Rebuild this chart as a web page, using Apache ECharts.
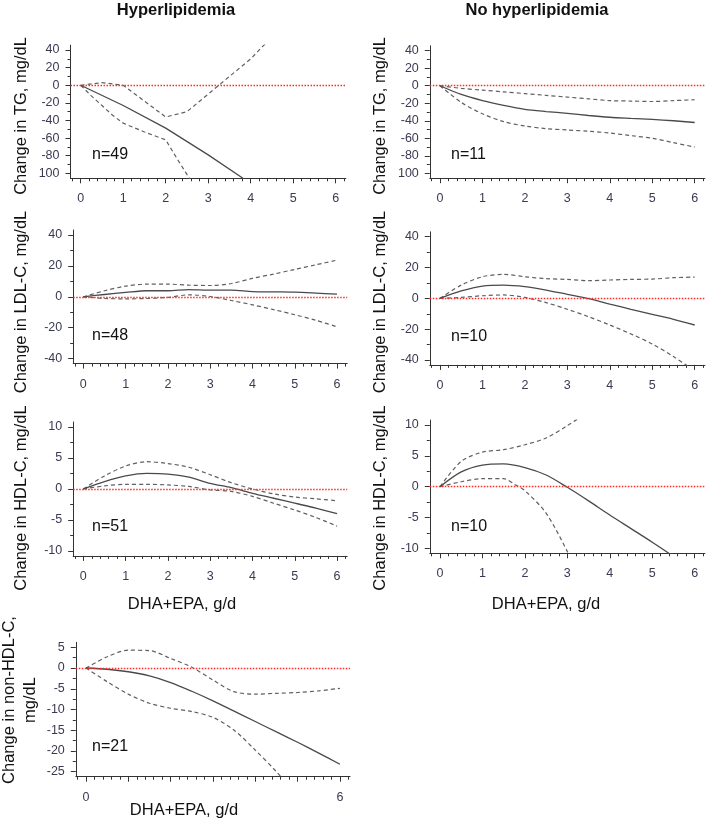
<!DOCTYPE html>
<html><head><meta charset="utf-8">
<script src="https://cdn.jsdelivr.net/npm/echarts@6/dist/echarts.min.js"></script>
<style>html,body{margin:0;padding:0;background:#fff}#c{width:709px;height:820px}</style>
</head><body><div id="c"></div>
<script>
// ---------- tick labels / axis ranges ----------
const xRange = [-0.24, 6.24];
const xTicks = [0, 1, 2, 3, 4, 5, 6];
const xTicksBottom = [0, 6];
const xMinor = [-0.2,0.2,0.4,0.6,0.8,1.2,1.4,1.6,1.8,2.2,2.4,2.6,2.8,3.2,3.4,3.6,3.8,4.2,4.4,4.6,4.8,5.2,5.4,5.6,5.8,6.2];

const tgRange = [-105.6, 45.6];
const tgTicks = [-100, -80, -60, -40, -20, 0, 20, 40];
const tgTickText = ['100', '-80', '-60', '-40', '-20', '0', '20', '40'];
const tgMinor = [-90, -70, -50, -30, -10, 10, 30];

const ldlRange = [-43.2, 43.2];
const ldlTicks = [-40, -20, 0, 20, 40];
const ldlTickText = ['-40', '-20', '0', '20', '40'];
const ldlMinor = [-30, -10, 10, 30];

const hdlRange = [-10.8, 10.8];
const hdlTicks = [-10, -5, 0, 5, 10];
const hdlTickText = ['-10', '-5', '0', '5', '10'];
const hdlMinor = [-7.5, -2.5, 2.5, 7.5];

const nonHdlRange = [-26.2, 6.2];
const nonHdlTicks = [-25, -20, -15, -10, -5, 0, 5];
const nonHdlTickText = ['-25', '-20', '-15', '-10', '-5', '0', '5'];
const nonHdlMinor = [-22.5, -17.5, -12.5, -7.5, -2.5, 2.5];

// ---------- series values [DHA+EPA g/d, change] ----------
const tgHypEst = [[0,0],[1,-23],[2,-48.7],[3,-79],[3.8,-105],[4.2,-118]];
const tgHypHi  = [[0,0],[0.5,3],[1,0],[1.5,-18],[2,-36],[2.5,-30],[3,-10],[3.5,10],[4,30],[4.3,45],[4.6,58]];
const tgHypLo  = [[0,0],[0.25,-12],[0.5,-23],[0.75,-34],[1,-43],[1.5,-53],[2,-62],[2.25,-82],[2.55,-105],[2.7,-118]];

const tgNoEst = [[0,0],[0.5,-10],[1,-17],[1.5,-22.5],[2,-27],[2.5,-29.5],[3,-31.5],[3.5,-34],[4,-36],[4.5,-37.3],[5,-38.5],[5.5,-40],[6,-42]];
const tgNoHi  = [[0,0],[0.5,-3],[1,-5],[1.5,-7],[2,-9],[2.5,-11],[3,-13],[3.5,-15],[4,-17],[4.5,-17.5],[5,-18],[5.5,-17],[6,-16]];
const tgNoLo  = [[0,0],[0.5,-19],[1,-32],[1.5,-41],[2,-46],[2.5,-49],[3,-50.5],[3.5,-52],[4,-54],[4.5,-57],[5,-60],[5.5,-65],[6,-70]];

const ldlHypEst = [[0,0],[0.5,1.5],[1,2.8],[1.5,3.9],[2,3.9],[2.5,4.7],[3,4.3],[3.5,4.3],[4,3.4],[4.5,3.2],[5,3],[5.5,2.4],[6,1.7]];
const ldlHypHi  = [[0,0],[0.5,3.9],[1,6.9],[1.5,8.2],[2,8.2],[2.5,7.5],[3,7.3],[3.5,8.6],[4,11.9],[4.5,14.7],[5,17.7],[5.5,20.7],[6,23.7]];
const ldlHypLo  = [[0,0],[0.5,-1.1],[1,-1.3],[1.5,-1.1],[2,-0.4],[2.5,1.3],[3,0.2],[3.5,-2.4],[4,-5.2],[4.5,-8.3],[5,-11.6],[5.5,-15.2],[6,-19.4]];

const ldlNoEst = [[0,0],[0.5,4.8],[1,8],[1.5,8.6],[2,7.6],[2.5,5.4],[3,2.6],[3.5,-0.2],[4,-3.7],[4.5,-7.1],[5,-10.4],[5.5,-13.6],[6,-17.3]];
const ldlNoHi  = [[0,0],[0.5,8.6],[1,14],[1.5,15.6],[2,14],[2.5,12.8],[3,12.3],[3.5,11.5],[4,11.9],[4.5,12.3],[5,12.5],[5.5,13.4],[6,13.8]];
const ldlNoLo  = [[0,0],[0.5,0.6],[1,1.7],[1.5,2.2],[2,0.6],[2.5,-2.8],[3,-7.1],[3.5,-11.9],[4,-17.3],[4.5,-23.1],[5,-29.6],[5.5,-37.8],[6,-47]];

const hdlHypEst = [[0,0],[0.5,1.2],[1,2.1],[1.5,2.5],[2,2.4],[2.5,1.9],[3,0.9],[3.5,0.2],[4,-0.7],[4.5,-1.5],[5,-2.3],[5.5,-3.1],[6,-4.0]];
const hdlHypHi  = [[0,0],[0.5,2.1],[1,3.7],[1.5,4.4],[2,4.1],[2.5,3.5],[3,2.3],[3.5,1.0],[4,0],[4.5,-0.8],[5,-1.3],[5.5,-1.6],[6,-1.9]];
const hdlHypLo  = [[0,0],[0.5,0.5],[1,0.75],[1.5,0.75],[2,0.65],[2.5,0.4],[3,-0.15],[3.5,-0.4],[4,-1.2],[4.5,-2.3],[5,-3.4],[5.5,-4.6],[6,-6.0]];

const hdlNoEst = [[0,0],[0.5,2.4],[1,3.5],[1.5,3.7],[2,3.1],[2.5,1.9],[3,-0.1],[3.5,-2.3],[4,-4.6],[4.5,-6.8],[5,-9.0],[5.5,-11.3],[6,-13.5]];
const hdlNoHi  = [[0,0],[0.5,4.1],[1,5.6],[1.5,6.0],[2,6.8],[2.5,7.9],[3,9.9],[3.3,11.3],[3.5,12.5]];
const hdlNoLo  = [[0,0],[0.5,0.8],[1,1.3],[1.5,1.3],[1.75,0.4],[2,-0.65],[2.5,-4.3],[3,-10.5],[3.2,-13.5]];

const nonHdlEst = [[0,0],[0.5,-0.3],[1,-0.9],[1.5,-1.9],[2,-3.5],[2.5,-5.6],[3,-7.9],[3.5,-10.4],[4,-12.9],[4.5,-15.4],[5,-17.9],[5.5,-20.5],[6,-23.2]];
const nonHdlHi  = [[0,0],[0.5,2.7],[1,4.3],[1.5,4.2],[2,2.3],[2.5,0.2],[3,-2.9],[3.5,-5.7],[4,-6.3],[4.5,-6.1],[5,-5.9],[5.5,-5.5],[6,-4.9]];
const nonHdlLo  = [[0,0],[0.5,-3.3],[1,-6.3],[1.5,-8.5],[2,-9.7],[2.5,-10.5],[3,-11.9],[3.5,-15],[4,-19.8],[4.5,-25],[5,-31]];

// ---------- text ----------
const titles = ['Hyperlipidemia', 'No hyperlipidemia'];
const xName = 'DHA+EPA, g/d';
const FONT = "'Liberation Sans', Arial, sans-serif";

// ---------- panels ----------
const panels = [
  {grid:{left:70.5,top:45.1,width:275.4,height:133.2}, yr:tgRange, yt:tgTicks, ytt:tgTickText, ym:tgMinor,
   est:tgHypEst, hi:tgHypHi, lo:tgHypLo, smooth:false, n:'n=49', nPos:[92,155], xt:xTicks},
  {grid:{left:429.8,top:45.8,width:275.1,height:132.4}, yr:tgRange, yt:tgTicks, ytt:tgTickText, ym:tgMinor,
   est:tgNoEst, hi:tgNoHi, lo:tgNoLo, smooth:0.3, n:'n=11', nPos:[451,155], xt:xTicks},
  {grid:{left:73.2,top:230,width:274,height:133.6}, yr:ldlRange, yt:ldlTicks, ytt:ldlTickText, ym:ldlMinor,
   est:ldlHypEst, hi:ldlHypHi, lo:ldlHypLo, smooth:0.3, n:'n=48', nPos:[92,336], xt:xTicks},
  {grid:{left:429.8,top:231.8,width:275.1,height:133.1}, yr:ldlRange, yt:ldlTicks, ytt:ldlTickText, ym:ldlMinor,
   est:ldlNoEst, hi:ldlNoHi, lo:ldlNoLo, smooth:0.3, n:'n=10', nPos:[451,337], xt:xTicks},
  {grid:{left:73.2,top:422,width:274,height:133.9}, yr:hdlRange, yt:hdlTicks, ytt:hdlTickText, ym:hdlMinor,
   est:hdlHypEst, hi:hdlHypHi, lo:hdlHypLo, smooth:0.3, n:'n=51', nPos:[92,527], xt:xTicks},
  {grid:{left:429.8,top:420.1,width:275.1,height:133.2}, yr:hdlRange, yt:hdlTicks, ytt:hdlTickText, ym:hdlMinor,
   est:hdlNoEst, hi:hdlNoHi, lo:hdlNoLo, smooth:0.3, n:'n=10', nPos:[451,527], xt:xTicks},
  {grid:{left:75.8,top:642.3,width:274.3,height:134.4}, yr:nonHdlRange, yt:nonHdlTicks, ytt:nonHdlTickText, ym:nonHdlMinor,
   est:nonHdlEst, hi:nonHdlHi, lo:nonHdlLo, smooth:0.3, n:'n=21', nPos:[92,747], xt:xTicksBottom}
];

const yNames = [
  {t:'Change in TG, mg/dL', x:21, y:116}, {t:'Change in TG, mg/dL', x:380, y:116},
  {t:'Change in LDL-C, mg/dL', x:21, y:302}, {t:'Change in LDL-C, mg/dL', x:380, y:302},
  {t:'Change in HDL-C, mg/dL', x:21, y:498}, {t:'Change in HDL-C, mg/dL', x:380, y:498},
  {t:'Change in non-HDL-C,\nmg/dL', x:20, y:700}
];

const AXIS_COLOR = '#333';
const TICK_TEXT = '#3a3a52';
const grids = [], xAxes = [], yAxes = [], series = [];

panels.forEach((p, i) => {
  grids.push(Object.assign({containLabel:false}, p.grid));
  const lineStyle = {color: AXIS_COLOR, width: 1};
  // main x axis
  xAxes.push({type:'value', gridIndex:i, min:xRange[0], max:xRange[1], position:'bottom',
    axisLine:{show:true, onZero:false, lineStyle},
    axisTick:{show:true, length:5, customValues:xTicks, lineStyle},
    axisLabel:{show:true, customValues:p.xt, margin:14, fontSize:12.5, color:TICK_TEXT, fontFamily:FONT},
    splitLine:{show:false}});
  // minor x ticks
  xAxes.push({type:'value', gridIndex:i, min:xRange[0], max:xRange[1], position:'bottom',
    axisLine:{show:false, onZero:false},
    axisTick:{show:true, length:3, customValues:xMinor, lineStyle},
    axisLabel:{show:false}, splitLine:{show:false}});
  const ticks = p.yt, texts = p.ytt;
  yAxes.push({type:'value', gridIndex:i, min:p.yr[0], max:p.yr[1], position:'left',
    axisLine:{show:true, onZero:false, lineStyle},
    axisTick:{show:true, length:5, customValues:ticks, lineStyle},
    axisLabel:{show:true, customValues:ticks, margin:11, fontSize:12.5, color:TICK_TEXT, fontFamily:FONT,
      formatter: v => { const k = ticks.indexOf(v); return k >= 0 ? texts[k] : String(v); }},
    splitLine:{show:false}});
  yAxes.push({type:'value', gridIndex:i, min:p.yr[0], max:p.yr[1], position:'left',
    axisLine:{show:false, onZero:false},
    axisTick:{show:true, length:3, customValues:p.ym, lineStyle},
    axisLabel:{show:false}, splitLine:{show:false}});

  const xi = 2*i, yi = 2*i;
  series.push({type:'line', xAxisIndex:xi, yAxisIndex:yi, data:p.est, smooth:p.smooth, showSymbol:false, symbol:'none',
    clip:true, lineStyle:{color:'#4a4a4a', width:1.3}, z:3,
    markLine:{silent:true, symbol:'none', label:{show:false}, animation:false,
      lineStyle:{color:'#ff2a2a', type:[1.5,1.5], width:1.4}, data:[{yAxis:0}]}});
  series.push({type:'line', xAxisIndex:xi, yAxisIndex:yi, data:p.hi, smooth:p.smooth, showSymbol:false, symbol:'none',
    clip:true, lineStyle:{color:'#606060', width:1.2, type:[4,3]}, z:2});
  series.push({type:'line', xAxisIndex:xi, yAxisIndex:yi, data:p.lo, smooth:p.smooth, showSymbol:false, symbol:'none',
    clip:true, lineStyle:{color:'#606060', width:1.2, type:[4,3]}, z:2});
});

const graphic = [];
function txt(t, x, y, size, opts) {
  return Object.assign({type:'text', x, y, silent:true, style:Object.assign({text:t, fontSize:size, fontFamily:FONT,
    fill:'#111', align:'center', verticalAlign:'middle', textAlign:'center', textVerticalAlign:'middle'}, (opts && opts.style) || {})},
    (opts && opts.el) || {});
}
graphic.push(txt(titles[0], 176, 10, 16.5, {style:{fontWeight:'bold'}}));
graphic.push(txt(titles[1], 537, 10, 16.5, {style:{fontWeight:'bold'}}));
graphic.push(txt(xName, 182, 604, 16.5));
graphic.push(txt(xName, 546, 604, 16.5));
graphic.push(txt(xName, 184, 810, 16.5));
yNames.forEach(o => graphic.push(txt(o.t, o.x, o.y, 16.5, {el:{rotation:Math.PI/2}, style:{lineHeight:21}})));
panels.forEach(p => graphic.push(txt(p.n, p.nPos[0], p.nPos[1], 16, {style:{align:'left', textAlign:'left'}})));

const chart = echarts.init(document.getElementById('c'), null, {renderer:'canvas'});
chart.setOption({animation:false, backgroundColor:'#fff', grid:grids, xAxis:xAxes, yAxis:yAxes, series, graphic});
</script></body></html>
